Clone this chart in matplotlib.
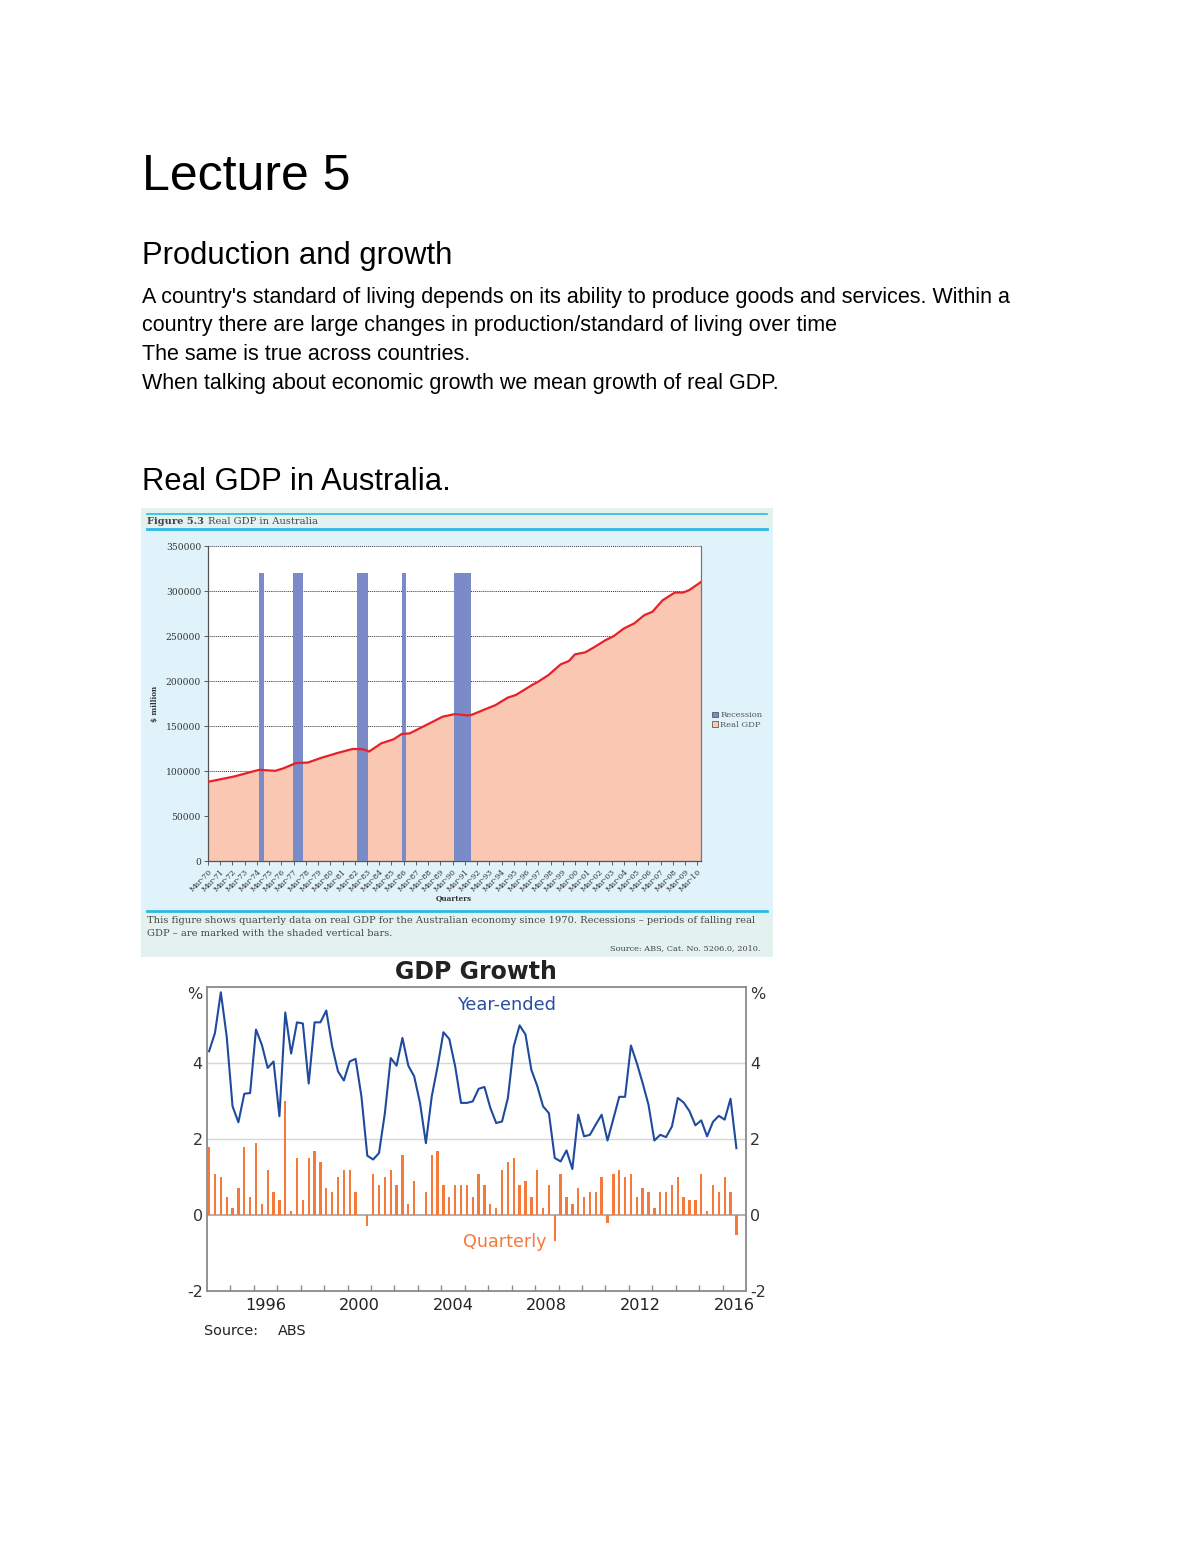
import matplotlib
matplotlib.use("Agg")
import matplotlib.pyplot as plt
import matplotlib.transforms as mtransforms
from matplotlib.patches import Rectangle, Patch
from matplotlib.lines import Line2D
import numpy as np

# ---------------- data ----------------
# Figure 5.3 Real GDP in Australia ($ million), read at decimal years
gdp_year = [1970.0, 1972.17, 1974.17, 1975.5, 1976.17, 1977.17, 1978.17, 1979.17,
            1980.5, 1981.83, 1982.67, 1983.17, 1984.17, 1985.17, 1985.83, 1986.5,
            1987.83, 1989.17, 1990.17, 1991.17, 1991.5, 1992.5, 1993.5, 1994.5,
            1995.17, 1996.5, 1997.0, 1997.83, 1998.83, 1999.5, 2000.0, 2000.83,
            2001.5, 2002.5, 2003.17, 2004.0, 2004.83, 2005.67, 2006.33, 2007.17,
            2008.17, 2008.83, 2009.33, 2010.3]
gdp_value = [88000, 94000, 101300, 100200, 103000, 108700, 109400, 114200,
             119700, 124500, 124200, 121600, 130800, 135200, 141100, 141900,
             151000, 160300, 163200, 161800, 162100, 167700, 173200, 181500,
             184500, 195600, 199300, 206600, 218500, 222200, 229600, 231800,
             237000, 245400, 249900, 258400, 263900, 273200, 276900, 289800,
             298300, 298300, 300900, 310000]
recession_start = [1974.20, 1976.97, 1982.20, 1985.84, 1990.11]
recession_end = [1974.54, 1977.77, 1983.10, 1986.20, 1991.51]
recession_height = 320000
fig1_years = list(range(1970, 2011))
fig1_ticklabels = ["Mar-%02d" % (y % 100) for y in fig1_years]
fig1_yticks = [0, 50000, 100000, 150000, 200000, 250000, 300000, 350000]

# GDP Growth (%), quarterly Mar-1994 .. Sep-2016
quarters = [f"{y}Q{q}" for y in range(1994, 2017) for q in range(1, 5)][:91]
quarterly_growth = [1.78, 1.09, 0.99, 0.47, 0.19, 0.70, 1.78, 0.47, 1.89, 0.29,
                    1.18, 0.60, 0.39, 2.99, 0.11, 1.49, 0.39, 1.49, 1.69, 1.39,
                    0.70, 0.60, 0.99, 1.18, 1.18, 0.60, 0.00, -0.30, 1.09, 0.79,
                    0.99, 1.18, 0.79, 1.59, 0.29, 0.89, 0.00, 0.60, 1.59, 1.69,
                    0.79, 0.47, 0.79, 0.79, 0.79, 0.47, 1.09, 0.79, 0.29, 0.19,
                    1.18, 1.39, 1.49, 0.79, 0.89, 0.47, 1.18, 0.19, 0.79, -0.69,
                    1.09, 0.47, 0.29, 0.70, 0.47, 0.60, 0.60, 0.99, -0.21, 1.09,
                    1.18, 0.99, 1.09, 0.47, 0.70, 0.60, 0.19, 0.60, 0.60, 0.79,
                    0.99, 0.47, 0.39, 0.39, 1.09, 0.11, 0.79, 0.60, 0.99, 0.60,
                    -0.52]
year_ended_growth = [4.31, 4.79, 5.86, 4.70, 2.86, 2.44, 3.19, 3.21, 4.88, 4.48,
                     3.87, 4.04, 2.60, 5.33, 4.25, 5.07, 5.04, 3.46, 5.07, 5.07,
                     5.38, 4.44, 3.78, 3.54, 4.04, 4.11, 3.12, 1.56, 1.46, 1.63,
                     2.68, 4.13, 3.93, 4.66, 3.93, 3.65, 2.95, 1.89, 3.12, 3.91,
                     4.81, 4.63, 3.91, 2.95, 2.95, 2.99, 3.32, 3.37, 2.82, 2.42,
                     2.46, 3.08, 4.44, 4.99, 4.75, 3.82, 3.40, 2.86, 2.68, 1.50,
                     1.41, 1.70, 1.21, 2.64, 2.07, 2.11, 2.38, 2.64, 1.96, 2.53,
                     3.11, 3.11, 4.46, 4.00, 3.47, 2.90, 1.96, 2.11, 2.05, 2.33,
                     3.08, 2.96, 2.73, 2.36, 2.49, 2.07, 2.45, 2.61, 2.51, 3.06,
                     1.76]
growth_label_years = [1996, 2000, 2004, 2008, 2012, 2016]

body_lines = [
    "A country's standard of living depends on its ability to produce goods and services. Within a",
    "country there are large changes in production/standard of living over time",
    "The same is true across countries.",
    "When talking about economic growth we mean growth of real GDP.",
]

# ---------------- layout helpers ----------------
W, H = 1200, 1553
fig = plt.figure(figsize=(W / 100, H / 100), dpi=100)
fig.patch.set_facecolor("white")


def fx(x):
    return x / W


def fy(y):
    return 1 - y / H


def rect(l, t, r, b):
    return [l / W, 1 - b / H, (r - l) / W, (b - t) / H]


SANS = ["Liberation Sans", "DejaVu Sans"]
SERIF = ["DejaVu Serif"]
CHART2 = ["DejaVu Sans"]

# ---------------- page text ----------------
fig.text(fx(142), fy(190), "Lecture 5", fontsize=36, family=SANS, va="baseline")
fig.text(fx(142), fy(264), "Production and growth", fontsize=22.3, family=SANS, va="baseline")
for i, line in enumerate(body_lines):
    fig.text(fx(142), fy(303 + 28.5 * i), line, fontsize=15.5, family=SANS, va="baseline")
fig.text(fx(142), fy(490), "Real GDP in Australia.", fontsize=22.3, family=SANS, va="baseline")

# ---------------- Figure 5.3 panel ----------------
fig.add_artist(Rectangle((fx(141), fy(957)), (773 - 141) / W, (957 - 508) / H,
                         transform=fig.transFigure, facecolor="#e1f3fa", edgecolor="none", zorder=-3))
fig.add_artist(Rectangle((fx(141), fy(529)), (773 - 141) / W, (529 - 508) / H,
                         transform=fig.transFigure, facecolor="#e4f2ef", edgecolor="none", zorder=-2))
fig.add_artist(Rectangle((fx(141), fy(957)), (773 - 141) / W, (957 - 912) / H,
                         transform=fig.transFigure, facecolor="#e4f2ef", edgecolor="none", zorder=-2))
for yy, lw in [(514, 1.2), (528.5, 2.0), (911, 2.0)]:
    fig.add_artist(Line2D([fx(147), fx(767)], [fy(yy), fy(yy)], transform=fig.transFigure,
                          color="#2ab9e6", lw=lw, zorder=-1))

fig.text(fx(147), fy(521), "Figure 5.3", fontsize=7.1, family=SERIF, weight="bold",
         color="#444444", va="center")
fig.text(fx(208), fy(521), "Real GDP in Australia", fontsize=7.1, family=SERIF,
         color="#444444", va="center")

ax1 = fig.add_axes(rect(208, 546, 701, 861))
ax1.set_facecolor("white")
ax1.fill_between(gdp_year, gdp_value, 0, color="#f9c7b2", lw=0, zorder=2)
ax1.bar(recession_start, recession_height,
        width=np.array(recession_end) - np.array(recession_start),
        align="edge", color="#7b8bc7", lw=0, zorder=3)
ax1.plot(gdp_year, gdp_value, color="#e8202a", lw=1.6, zorder=4)
ax1.set_xlim(1970, 2010.3)
ax1.set_ylim(0, 350000)
ax1.set_yticks(fig1_yticks)
ax1.set_yticklabels([str(v) for v in fig1_yticks], family=SERIF, fontsize=6.6, color="#333333")
ax1.set_xticks(fig1_years)
ax1.set_xticklabels(fig1_ticklabels, rotation=45, ha="right", rotation_mode="anchor",
                    family=SERIF, fontsize=5.5, color="#333333")
ax1.tick_params(axis="both", length=3, width=0.6, color="#444444", pad=2)
ax1.grid(axis="y", color="#333333", ls=(0, (1, 1)), lw=0.7)
ax1.set_axisbelow(True)
ax1.spines["top"].set_visible(False)
ax1.spines["right"].set_color("#777777")
ax1.spines["left"].set_color("#555555")
ax1.spines["bottom"].set_color("#555555")
for s in ax1.spines.values():
    s.set_linewidth(0.9)

fig.text(fx(155), fy(704), "$ million", rotation=90, fontsize=5.2, family=SERIF,
         weight="bold", ha="center", va="center", color="#333333")
fig.text(fx(454), fy(898), "Quarters", fontsize=5.2, family=SERIF, weight="bold",
         ha="center", va="center", color="#333333")
ax1.legend(handles=[Patch(facecolor="#7b8bc7", edgecolor="#444444", lw=0.5, label="Recession"),
                    Patch(facecolor="#f9c7b2", edgecolor="#444444", lw=0.5, label="Real GDP")],
           loc="upper left", bbox_to_anchor=(fx(712), fy(711.5)), bbox_transform=fig.transFigure,
           frameon=False, prop={"family": SERIF, "size": 6}, handlelength=0.7, handleheight=0.7,
           handletextpad=0.3, labelspacing=0.2, borderpad=0, borderaxespad=0, labelcolor="#555555")

fig.text(fx(147), fy(921), "This figure shows quarterly data on real GDP for the Australian economy "
         "since 1970. Recessions \u2013 periods of falling real", fontsize=7.15, family=SERIF,
         color="#444444", va="center")
fig.text(fx(147), fy(933), "GDP \u2013 are marked with the shaded vertical bars.", fontsize=7.15,
         family=SERIF, color="#444444", va="center")
fig.text(fx(760), fy(948), "Source: ABS, Cat. No. 5206.0, 2010.", fontsize=5.9, family=SERIF,
         color="#444444", va="center", ha="right")

# ---------------- GDP Growth chart ----------------
ax2 = fig.add_axes(rect(207, 987, 746, 1291))
qx = np.array([int(q[:4]) + (int(q[-1]) - 1) * 0.25 + 0.09 for q in quarters])
for yv, c, lw in [(2, "#d6d6d6", 1.0), (4, "#d6d6d6", 1.0), (0, "#aaaaaa", 1.3)]:
    ax2.axhline(yv, color=c, lw=lw, zorder=1)
ax2.bar(qx, quarterly_growth, width=0.1, color="#f5793b", lw=0, zorder=3)
ax2.plot(qx, year_ended_growth, color="#1f4a9e", lw=1.5, zorder=4)
ax2.set_xlim(1994, 2017)
ax2.set_ylim(-2, 6)
ax2.set_yticks([-2, 0, 2, 4, 6])
ax2.set_yticklabels(["-2", "0", "2", "4", "%"], family=CHART2, fontsize=11.5, color="#333333")
ax2.tick_params(axis="y", length=0, pad=3, labelright=True, labelleft=True)
ax2.set_xticks(range(1995, 2017))
ax2.set_xticklabels([])
ax2.tick_params(axis="x", which="major", direction="in", length=4.5, width=1, color="#8a8a8a")
ax2.set_xticks([y + 0.5 for y in growth_label_years], minor=True)
ax2.set_xticklabels([str(y) for y in growth_label_years], minor=True, family=CHART2,
                    fontsize=11.6, color="#222222")
ax2.tick_params(axis="x", which="minor", length=0, pad=5)
for s in ax2.spines.values():
    s.set_color("#8a8a8a")
    s.set_linewidth(1.3)
ax2.set_facecolor("white")
# nudge the "%" unit labels slightly below the top edge
_off = mtransforms.ScaledTranslation(0, -6 / 100, fig.dpi_scale_trans)
_top = ax2.yaxis.get_major_ticks()[-1]
_top.label1.set_transform(_top.label1.get_transform() + _off)
_top.label2.set_transform(_top.label2.get_transform() + _off)
ax2.text(0.555, 0.941, "Year-ended", transform=ax2.transAxes, ha="center", va="center",
         family=CHART2, fontsize=12.8, color="#2a4fa0")
ax2.text(0.553, 0.161, "Quarterly", transform=ax2.transAxes, ha="center", va="center",
         family=CHART2, fontsize=12.6, color="#f5793b")
fig.text(fx(476), fy(972), "GDP Growth", ha="center", va="center", family=CHART2,
         weight="bold", fontsize=17, color="#222222")
fig.text(fx(204), fy(1331), "Source:", ha="left", va="center", family=CHART2,
         fontsize=10.4, color="#222222")
fig.text(fx(278), fy(1331), "ABS", ha="left", va="center", family=CHART2,
         fontsize=10.4, color="#222222")

fig.savefig("out.png", dpi=100, facecolor="white")
